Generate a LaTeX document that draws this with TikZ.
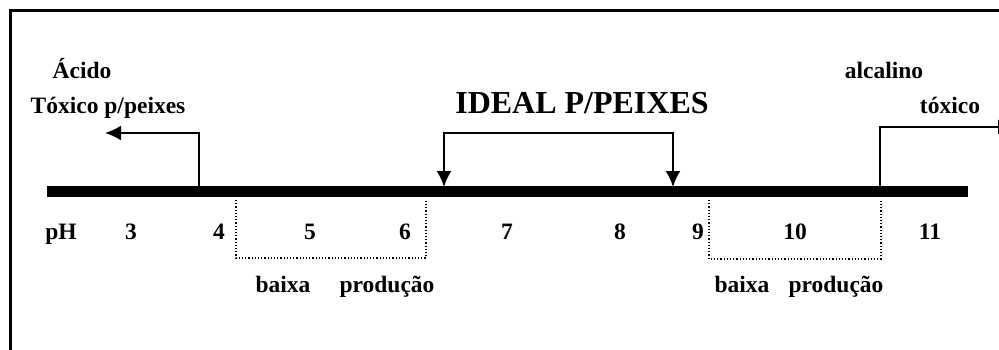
\documentclass[tikz,border=0pt]{standalone}
\usepackage{fontspec}
\setmainfont{Liberation Serif}
\usetikzlibrary{arrows.meta,positioning}
\tikzset{every picture/.style={
  >={Latex[length=16pt,width=15pt]}   % big filled arrow heads.
  }
}

\begin{document}
\begin{tikzpicture}[x=1pt,y=-1pt,
        lbl/.style={font=\fontsize{23.5}{26}\selectfont\bfseries, inner sep=0pt, anchor=base},
        title/.style={font=\fontsize{32}{34}\selectfont\bfseries, inner sep=0pt, anchor=base},
        scale bar/.style={line width=11pt},
        pointer/.style={line width=2pt},
        lowzone/.style={line width=1.2pt, dotted},
      ]
      \useasboundingbox (0,0) rectangle (999,349);
      \clip (0,0) rectangle (999,349);
      \draw[line width=3pt] (1020,10) -- (10,10) -- (10,370);
      % the pH bar
      \coordinate (barL) at (47,191);
      \coordinate (barR) at (968,191);
      \draw[scale bar] (barL) -- (barR);
      % pH values
      \node[lbl] (ph) at (61,239) {pH};
      \node[lbl] (p3) at (131,239) {3};
      \node[lbl] (p4) at (219,239) {4};
      \node[lbl] (p5) at (310,239) {5};
      \node[lbl] (p6) at (405,239) {6};
      \node[lbl] (p7) at (507,239) {7};
      \node[lbl] (p8) at (620,239) {8};
      \node[lbl] (p9) at (698,239) {9};
      \node[lbl] (p10) at (795,239) {10};
      \node[lbl] (p11) at (930,239) {11};
      % acid side
      \node[lbl] (acido) at (82,78) {Ácido};
      \node[lbl] (toxacid) at (108,113) {Tóxico p/peixes};
      \coordinate (acidfoot) at (199,186);
      \coordinate (acidtip) at (105,133);
      \draw[pointer,->] (acidfoot) |- (acidtip);
      % ideal range
      \node[title] (ideal) at (582,113) {IDEAL P/PEIXES};
      \coordinate (idealL) at (444,187);
      \coordinate (idealR) at (673,187);
      \coordinate (idealtop) at (558,133);
      \draw[pointer,->] (idealtop) -| (idealL);
      \draw[pointer,->] (idealtop) -| (idealR);
      % alkaline side
      \node[lbl] (alcalino) at (884,78) {alcalino};
      \node[lbl] (toxalc) at (950,113) {tóxico};
      \coordinate (alcfoot) at (880,186);
      \coordinate (alctip) at (1014,127);
      \draw[pointer,->] (alcfoot) |- (alctip);
      % low production ranges
      \coordinate (lowA1) at (236,200);
      \coordinate (lowA2) at (426,200);
      \draw[lowzone] (lowA1) -- ++(0,58) -| (lowA2);
      \node[lbl] (baixaA) at (283,292) {baixa};
      \node[lbl] (prodA) at (387,292) {produção};
      \coordinate (lowB1) at (709,200);
      \coordinate (lowB2) at (881,200);
      \draw[lowzone] (lowB1) -- ++(0,59) -| (lowB2);
      \node[lbl] (baixaB) at (742,292) {baixa};
      \node[lbl] (prodB) at (836,292) {produção};
\end{tikzpicture}
\end{document}
